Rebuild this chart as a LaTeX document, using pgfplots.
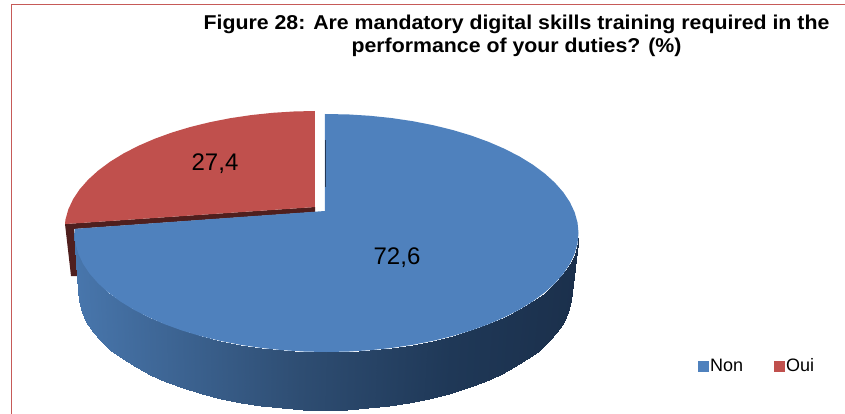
\documentclass[border=0pt]{standalone}
\usepackage{pgfplots}
\usepackage{pgfplotstable}
\usepackage{fontspec}
\setmainfont{Liberation Sans}
\pgfplotsset{compat=1.18}
% unit-ellipse outlines of the two slices: Non 72.6, Oui 27.4
\pgfplotstableread{
c s
-.006 1
.0872 .9962
.1736 .9848
.2588 .9659
.3420 .9397
.4226 .9063
.5 .8660
.5736 .8192
.6428 .7660
.7071 .7071
.7660 .6428
.8192 .5736
.8660 .5
.9063 .4226
.9397 .3420
.9659 .2588
.9848 .1736
.9962 .0872
1 0
.9962 -.0872
.9848 -.1736
.9659 -.2588
.9397 -.3420
.9063 -.4226
.8660 -.5
.8192 -.5736
.7660 -.6428
.7071 -.7071
.6428 -.7660
.5736 -.8192
.5 -.8660
.4226 -.9063
.3420 -.9397
.2588 -.9659
.1736 -.9848
.0872 -.9962
0 -1
-.0872 -.9962
-.1736 -.9848
-.2588 -.9659
-.3420 -.9397
-.4226 -.9063
-.5 -.8660
-.5736 -.8192
-.6428 -.7660
-.7071 -.7071
-.7660 -.6428
-.8192 -.5736
-.8660 -.5
-.9063 -.4226
-.9397 -.3420
-.9659 -.2588
-.9848 -.1736
-.9962 -.0872
-1 0
-.9994 .035
-.006 .185
}\nontop
\pgfplotstableread{
c s
-.006 1
-.0872 .9962
-.1736 .9848
-.2588 .9659
-.3420 .9397
-.4226 .9063
-.5 .8660
-.5736 .8192
-.6428 .7660
-.7071 .7071
-.7660 .6428
-.8192 .5736
-.8660 .5
-.9063 .4226
-.9397 .3420
-.9659 .2588
-.9848 .1736
-.9962 .0872
-.998 .05
-.006 .193
}\ouitop
\pgfplotstableread{
l c s
0 -1 0
0 -.9962 -.0872
0 -.9848 -.1736
0 -.9659 -.2588
0 -.9397 -.3420
0 -.9063 -.4226
0 -.8660 -.5
0 -.8192 -.5736
0 -.7660 -.6428
0 -.7071 -.7071
0 -.6428 -.7660
0 -.5736 -.8192
0 -.5 -.8660
0 -.4226 -.9063
0 -.3420 -.9397
0 -.2588 -.9659
0 -.1736 -.9848
0 -.0872 -.9962
0 0 -1
0 .0872 -.9962
0 .1736 -.9848
0 .2588 -.9659
0 .3420 -.9397
0 .4226 -.9063
0 .5 -.8660
0 .5736 -.8192
0 .6428 -.7660
0 .7071 -.7071
0 .7660 -.6428
0 .8192 -.5736
0 .8660 -.5
0 .9063 -.4226
0 .9397 -.3420
0 .9659 -.2588
0 .9848 -.1736
0 .9962 -.0872
0 1 0
1 -1 0
1 -.9962 -.0872
1 -.9848 -.1736
1 -.9659 -.2588
1 -.9397 -.3420
1 -.9063 -.4226
1 -.8660 -.5
1 -.8192 -.5736
1 -.7660 -.6428
1 -.7071 -.7071
1 -.6428 -.7660
1 -.5736 -.8192
1 -.5 -.8660
1 -.4226 -.9063
1 -.3420 -.9397
1 -.2588 -.9659
1 -.1736 -.9848
1 -.0872 -.9962
1 0 -1
1 .0872 -.9962
1 .1736 -.9848
1 .2588 -.9659
1 .3420 -.9397
1 .4226 -.9063
1 .5 -.8660
1 .5736 -.8192
1 .6428 -.7660
1 .7071 -.7071
1 .7660 -.6428
1 .8192 -.5736
1 .8660 -.5
1 .9063 -.4226
1 .9397 -.3420
1 .9659 -.2588
1 .9848 -.1736
1 .9962 -.0872
1 1 0
}\band
\definecolor{nonblue}{RGB}{79,129,189}
\definecolor{ouired}{RGB}{192,80,77}
\definecolor{ouidark}{RGB}{79,31,30}
\definecolor{frame}{RGB}{198,90,88}
\begin{document}
\begin{tikzpicture}
\path[use as bounding box] (0,0) rectangle (845pt,414pt);
\begin{axis}[
  at={(0,0)}, anchor=south west,
  scale only axis, width=845pt, height=414pt,
  xmin=0, xmax=845, ymin=0, ymax=414, y dir=reverse,
  axis lines=none, clip=false,
  colormap={sidecm}{rgb255(0)=(72,118,172) rgb255(9)=(46,77,114) rgb255(15)=(31,56,87) rgb255(20)=(27,48,76)},
  point meta min=-1, point meta max=1,
  legend style={at={(axis cs:698,366)}, anchor=west, draw=none, fill=none, inner sep=0pt, outer sep=0pt,
    font=\fontsize{18}{20}\selectfont, legend columns=2,
    /tikz/every even column/.append style={column sep=29pt}},
  legend cell align=left,
]
\addlegendimage{only marks, mark=square*, mark size=5pt, color=nonblue}
\addlegendentry{Non}
\addlegendimage{only marks, mark=square*, mark size=5pt, color=ouired}
\addlegendentry{Oui}
% frame
\addplot[forget plot, frame, line width=1.5pt] coordinates {(11.5,414) (11.5,4.5) (845,4.5)};
% inner wall of the red slice
\addplot[forget plot, fill=ouidark, draw=none] coordinates {(315,207) (65,224) (71,276) (79,276) (74,229) (315,212)} -- cycle;
% red top
\addplot[forget plot, fill=ouired, draw=none] table[x expr={316.5+252*\thisrow{c}}, y expr={230-119*\thisrow{s}}] {\ouitop} -- cycle;
% blue wall
\addplot[forget plot, surf, shader=interp, mesh/rows=2, mesh/ordering=x varies, point meta=\thisrow{c}]
  table[x expr={326.5-1.5*\thisrow{l}+(252-5*\thisrow{l})*\thisrow{c}}, y expr={233+58*\thisrow{l}-119*\thisrow{s}}] {\band};
% blue top
\addplot[forget plot, fill=nonblue, draw=none] table[x expr={326.5+252*\thisrow{c}}, y expr={233-119*\thisrow{s}}] {\nontop} -- cycle;
\addplot[forget plot, color={rgb,255:red,35;green,55;blue,85}, line width=0.6pt] coordinates {(325,140) (325,187)};
\node[font=\fontsize{24}{26}\selectfont, text=black] at (axis cs:215,164) {27,4};
\node[font=\fontsize{24}{26}\selectfont, text=black] at (axis cs:397,257.5) {72,6};
\node[text=black, inner sep=0pt] at (axis cs:516.5,36.5)
  {\scalebox{1.065}[1]{\fontsize{20}{23}\selectfont\bfseries\begin{tabular}{@{}c@{}}Figure 28: Are mandatory digital skills training required in the\\performance of your duties? (\%)\end{tabular}}};
\end{axis}
\end{tikzpicture}
\end{document}
